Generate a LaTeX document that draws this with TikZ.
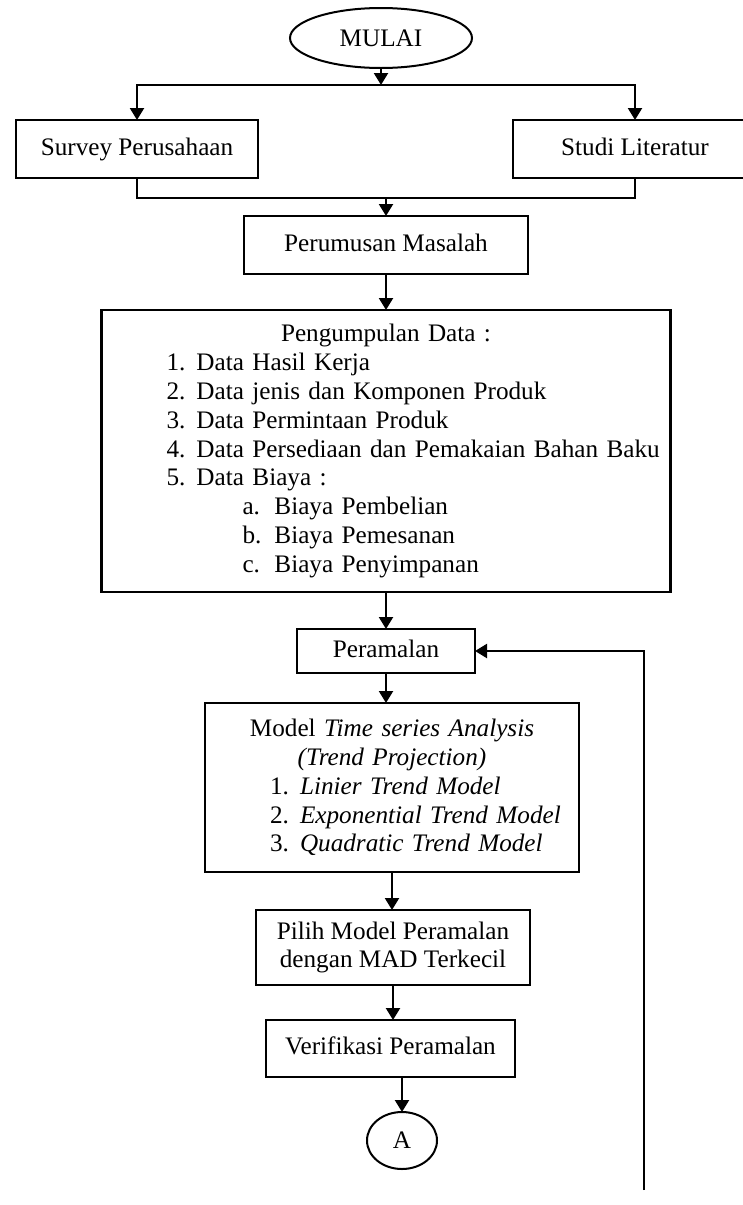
\documentclass[tikz,border=0pt]{standalone}
\usepackage{fontspec}
\setmainfont{Liberation Serif}
\usetikzlibrary{positioning, arrows.meta, shapes.geometric}
\setlength{\parindent}{0pt}
\tikzset{dbox/.style={draw, line width=1.3pt, outer sep=0pt, inner sep=2pt, align=center, font=\fontsize{12.6}{14.4}\selectfont}}
\tikzset{dline/.style={dbox, text height=9pt, text depth=3pt}}
\tikzset{doval/.style={draw, ellipse, line width=1pt, outer sep=0pt, inner sep=0pt, font=\fontsize{12.6}{14.4}\selectfont}}
\tikzset{arr/.style={draw, line width=1.1pt, -{Triangle[length=6pt, width=7pt]}}}
\tikzset{arr0/.style={draw, line width=1.1pt}}
\newcommand{\nomor}[2]{\hspace*{32.5pt}\makebox[15pt][l]{#1}#2\par}
\newcommand{\huruf}[2]{\hspace*{70.5pt}\makebox[16pt][l]{#1}#2\par}

\begin{document}
\begin{tikzpicture}
		\useasboundingbox (0,0) rectangle (371.5pt,-602.5pt);
		\node[doval, minimum width=91pt, minimum height=30pt] (mulai) at (190.5pt,-19pt) {MULAI};
		\node[dline, minimum width=121pt, minimum height=29pt, below=26pt of mulai, xshift=-122pt] (survey) {Survey Perusahaan};
		\node[dline, minimum width=122pt, minimum height=29pt, below=26pt of mulai, xshift=127pt] (studi) {Studi Literatur};
		\node[dline, minimum width=142pt, minimum height=29pt, below=74pt of mulai, xshift=2.5pt] (rumusan) {Perumusan Masalah};
		\node[dbox, text width=284.5pt, inner sep=0pt, minimum height=141pt, below=18pt of rumusan] (kumpul) {Pengumpulan Data :\par\raggedright
			\nomor{1.}{Data Hasil Kerja}
			\nomor{2.}{Data jenis dan Komponen Produk}
			\nomor{3.}{Data Permintaan Produk}
			\nomor{4.}{Data Persediaan dan Pemakaian Bahan Baku}
			\nomor{5.}{Data Biaya :}
			\huruf{a.}{Biaya Pembelian}
			\huruf{b.}{Biaya Pemesanan}
			\huruf{c.}{Biaya Penyimpanan}};
		\node[dline, minimum width=89pt, minimum height=22pt, below=18.5pt of kumpul] (ramal) {Peramalan};
		\node[dbox, text width=187pt, inner sep=0pt, minimum height=84.5pt, below=15pt of ramal, xshift=3pt] (model) {Model \textit{Time series Analysis}\par
			\textit{(Trend Projection)}\par\raggedright
			\nomor{1.}{\textit{Linier Trend Model}}
			\nomor{2.}{\textit{Exponential Trend Model}}
			\nomor{3.}{\textit{Quadratic Trend Model}}};
		\node[dbox, minimum width=137pt, minimum height=37.5pt, below=19pt of model, xshift=0.5pt] (pilih) {Pilih Model Peramalan\\dengan MAD Terkecil};
		\node[dline, minimum width=124.5pt, minimum height=28.5pt, below=17.5pt of pilih, xshift=-1.25pt] (verif) {Verifikasi Peramalan};
		\node[doval, minimum width=35pt, minimum height=28.5pt, below=17.5pt of verif, xshift=5.75pt] (konA) {A};
		%
		\coordinate[below=8.5pt of mulai] (cabang);
		\coordinate[above=9pt of rumusan] (gabung);
		\coordinate (balik) at (322pt,-595pt);
		%
		\draw[arr] (mulai) -- (cabang);
		\draw[arr] (cabang) -| (survey);
		\draw[arr] (cabang) -| (studi);
		\draw[arr0] (survey) |- (gabung) -| (studi);
		\draw[arr] (gabung) -- (rumusan);
		\draw[arr] (rumusan) -- (rumusan |- kumpul.north);
		\draw[arr] (kumpul) -- (kumpul |- ramal.north);
		\draw[arr] (ramal) -- (ramal |- model.north);
		\draw[arr] (model) -- (model |- pilih.north);
		\draw[arr] (pilih) -- (pilih |- verif.north);
		\draw[arr] (verif.south -| konA) -- (konA);
		\draw[arr] (balik) |- (ramal);
\end{tikzpicture}
\end{document}
